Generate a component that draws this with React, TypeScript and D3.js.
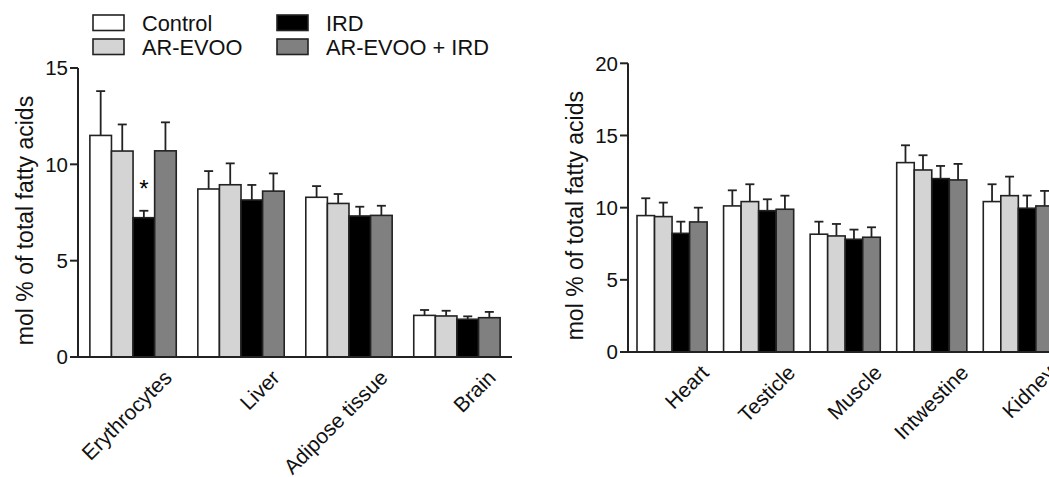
import React from "react";
import * as d3 from "d3";

// groups (legend order)
const groups = ["Control", "AR-EVOO", "IRD", "AR-EVOO + IRD"];
const groupFill = ["#ffffff", "#d4d4d4", "#000000", "#808080"];

// left panel
const leftCategories = ["Erythrocytes", "Liver", "Adipose tissue", "Brain"];
const leftTicks = [0, 5, 10, 15];
const leftControl = [11.5, 8.72, 8.29, 2.16];
const leftControlErr = [2.3, 0.93, 0.58, 0.28];
const leftArEvoo = [10.69, 8.94, 7.97, 2.13];
const leftArEvooErr = [1.38, 1.11, 0.49, 0.27];
const leftIrd = [7.23, 8.15, 7.32, 1.96];
const leftIrdErr = [0.36, 0.78, 0.48, 0.15];
const leftArEvooIrd = [10.7, 8.61, 7.35, 2.04];
const leftArEvooIrdErr = [1.48, 0.92, 0.5, 0.3];

// right panel
const rightCategories = ["Heart", "Testicle", "Muscle", "Intwestine", "Kidney"];
const rightTicks = [0, 5, 10, 15, 20];
const rightControl = [9.45, 10.12, 8.16, 13.12, 10.42];
const rightControlErr = [1.2, 1.08, 0.87, 1.2, 1.2];
const rightArEvoo = [9.38, 10.42, 8.04, 12.61, 10.83];
const rightArEvooErr = [0.97, 1.2, 0.83, 1.02, 1.32];
const rightIrd = [8.22, 9.79, 7.81, 12.01, 9.96];
const rightIrdErr = [0.81, 0.79, 0.67, 0.88, 0.88];
const rightArEvooIrd = [9.01, 9.89, 7.95, 11.92, 10.12];
const rightArEvooIrdErr = [0.99, 0.94, 0.69, 1.11, 1.04];

const FONT = "'Liberation Sans', Arial, sans-serif";
const INK = "#222";

type PanelProps = {
  categories: string[];
  ticks: number[];
  means: number[][];
  errs: number[][];
  x0: number;
  x1: number;
  yTop: number;
  yBase: number;
  padInner: number;
  padOuter: number;
  titleX: number;
  labelDx: number;
  labelDy: number;
  stars?: { cat: number; group: number }[];
};

const Panel = ({
  categories,
  ticks,
  means,
  errs,
  x0,
  x1,
  yTop,
  yBase,
  padInner,
  padOuter,
  titleX,
  labelDx,
  labelDy,
  stars = [],
}: PanelProps) => {
  const yScale = d3
    .scaleLinear()
    .domain([0, ticks[ticks.length - 1]])
    .range([yBase, yTop]);
  const xScale = d3
    .scaleBand()
    .domain(categories)
    .range([x0, x1])
    .paddingInner(padInner)
    .paddingOuter(padOuter);
  const xInner = d3
    .scaleBand()
    .domain(groups)
    .range([0, xScale.bandwidth()]);
  const bw = xInner.bandwidth();

  return (
    <g fontFamily={FONT}>
      {/* bars + error bars */}
      {categories.map((c, ci) =>
        groups.map((g, gi) => {
          const x = (xScale(c) as number) + (xInner(g) as number);
          const v = means[gi][ci];
          const top = yScale(v + errs[gi][ci]);
          const cx = x + bw / 2;
          return (
            <g key={c + g}>
              <line x1={cx} x2={cx} y1={yScale(v)} y2={top} stroke={INK} strokeWidth={1.8} />
              <line x1={cx - 4.5} x2={cx + 4.5} y1={top} y2={top} stroke={INK} strokeWidth={1.8} />
              <rect
                x={x}
                y={yScale(v)}
                width={bw}
                height={yBase - yScale(v)}
                fill={groupFill[gi]}
                stroke={INK}
                strokeWidth={1.6}
              />
            </g>
          );
        })
      )}
      {stars.map((s) => {
        const c = categories[s.cat];
        const g = groups[s.group];
        const cx = (xScale(c) as number) + (xInner(g) as number) + bw / 2;
        const top = yScale(means[s.group][s.cat] + errs[s.group][s.cat]);
        return (
          <text key={c + g} x={cx} y={top - 14} textAnchor="middle" fontSize={24} fill="#000">
            *
          </text>
        );
      })}
      {/* y axis */}
      <line x1={x0} x2={x0} y1={yTop} y2={yBase} stroke={INK} strokeWidth={2} />
      {ticks.map((t) => (
        <g key={t}>
          <line x1={x0 - 8} x2={x0} y1={yScale(t)} y2={yScale(t)} stroke={INK} strokeWidth={2} />
          <text
            x={x0 - 10}
            y={yScale(t)}
            dy="0.36em"
            textAnchor="end"
            fontSize={20.5}
            fill="#111"
          >
            {t}
          </text>
        </g>
      ))}
      {/* x axis */}
      <line x1={x0 - 8} x2={x1} y1={yBase} y2={yBase} stroke={INK} strokeWidth={2} />
      {categories.map((c) => {
        const cx = (xScale(c) as number) + xScale.bandwidth() / 2 + labelDx;
        const cy = yBase + labelDy;
        return (
          <text
            key={c}
            transform={`translate(${cx},${cy}) rotate(-45)`}
            textAnchor="end"
            fontSize={21}
            fill="#111"
          >
            {c}
          </text>
        );
      })}
      <text
        transform={`translate(${titleX},${(yTop + yBase) / 2 + 8}) rotate(-90)`}
        textAnchor="middle"
        fontSize={23}
        fill="#111"
      >
        mol % of total fatty acids
      </text>
    </g>
  );
};

const Legend = () => {
  const items = [
    { x: 93, y: 15 },
    { x: 93, y: 39 },
    { x: 277, y: 15 },
    { x: 277, y: 39 },
  ];
  return (
    <g fontFamily={FONT}>
      {groups.map((g, i) => (
        <g key={g}>
          <rect
            x={items[i].x}
            y={items[i].y}
            width={31}
            height={15.5}
            fill={groupFill[i]}
            stroke={INK}
            strokeWidth={1.6}
          />
          <text x={items[i].x + 49} y={items[i].y + 15.5} fontSize={21.8} fill="#111">
            {g}
          </text>
        </g>
      ))}
    </g>
  );
};

export default function App() {
  return (
    <svg
      width={1049}
      height={477}
      style={{ position: "absolute", left: 0, top: 0, background: "#fff" }}
    >
      <Legend />
      <Panel
        categories={leftCategories}
        ticks={leftTicks}
        means={[leftControl, leftArEvoo, leftIrd, leftArEvooIrd]}
        errs={[leftControlErr, leftArEvooErr, leftIrdErr, leftArEvooIrdErr]}
        x0={78}
        x1={512}
        yTop={68}
        yBase={357}
        padInner={0.2}
        padOuter={0.11}
        titleX={33}
        labelDx={40}
        labelDy={22}
        stars={[{ cat: 0, group: 2 }]}
      />
      <Panel
        categories={rightCategories}
        ticks={rightTicks}
        means={[rightControl, rightArEvoo, rightIrd, rightArEvooIrd]}
        errs={[rightControlErr, rightArEvooErr, rightIrdErr, rightArEvooIrdErr]}
        x0={628}
        x1={1062.4}
        yTop={63.3}
        yBase={352}
        padInner={0.19}
        padOuter={0.104}
        titleX={583}
        labelDx={38}
        labelDy={22}
      />
    </svg>
  );
}
